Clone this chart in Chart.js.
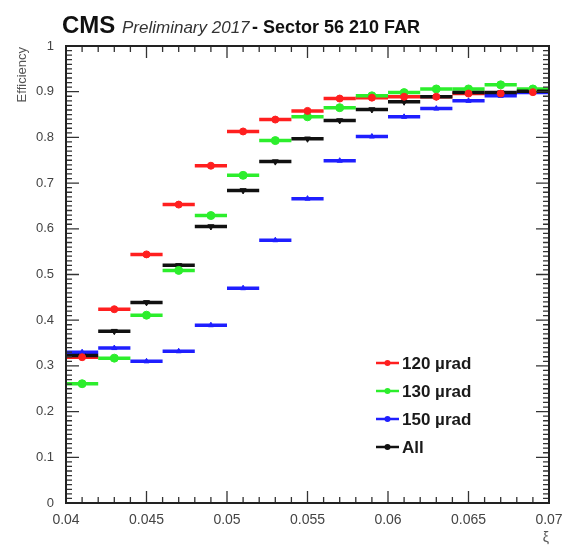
<!DOCTYPE html>
<html>
<head>
<meta charset="utf-8">
<script src="https://cdn.jsdelivr.net/npm/chart.js@4.4.1/dist/chart.umd.min.js"></script>
<style>
  html, body { margin: 0; padding: 0; background: #fff; }
  #wrap { width: 564px; height: 549px; }
</style>
</head>
<body>
<div id="wrap"><canvas id="effChart"></canvas></div>
<script>
// bin centres in xi, each bin is 0.002 wide
var xiBins = [0.041, 0.043, 0.045, 0.047, 0.049, 0.051, 0.053, 0.055,
              0.057, 0.059, 0.061, 0.063, 0.065, 0.067, 0.069];
var binHalfWidth = 0.001;

var eff120 = [0.319, 0.424, 0.544, 0.653, 0.738, 0.813, 0.839, 0.858,
              0.885, 0.887, 0.889, 0.889, 0.896, 0.896, 0.899];
var eff130 = [0.261, 0.317, 0.411, 0.509, 0.629, 0.717, 0.793, 0.845,
              0.865, 0.891, 0.898, 0.906, 0.906, 0.915, 0.906];
var eff150 = [0.330, 0.339, 0.310, 0.332, 0.389, 0.470, 0.575, 0.666,
              0.749, 0.802, 0.845, 0.863, 0.880, 0.891, 0.898];
var effAll = [0.323, 0.376, 0.439, 0.520, 0.605, 0.684, 0.747, 0.797,
              0.837, 0.861, 0.878, 0.889, 0.898, 0.898, 0.901];

var xTickValues = [0.04, 0.045, 0.05, 0.055, 0.06, 0.065, 0.07];
var xTickLabels = ["0.04", "0.045", "0.05", "0.055", "0.06", "0.065", "0.07"];
var yTickValues = [0, 0.1, 0.2, 0.3, 0.4, 0.5, 0.6, 0.7, 0.8, 0.9, 1];
var yTickLabels = ["0", "0.1", "0.2", "0.3", "0.4", "0.5", "0.6", "0.7", "0.8", "0.9", "1"];

function points(vals) {
  return xiBins.map(function (x, i) { return { x: x, y: vals[i] }; });
}

function series(label, vals, color, style, radius, rot) {
  return {
    label: label,
    data: points(vals),
    showLine: false,
    pointStyle: style,
    pointRadius: radius,
    pointRotation: rot || 0,
    pointBackgroundColor: color,
    pointBorderColor: color,
    pointBorderWidth: 1,
    binColor: color
  };
}

var rootFrame = {
  id: "rootFrame",
  beforeDatasetsDraw: function (chart) {
    var ctx = chart.ctx, xs = chart.scales.x, ys = chart.scales.y;
    ctx.save();
    ctx.lineWidth = 3.5;
    chart.data.datasets.forEach(function (ds) {
      ctx.strokeStyle = ds.binColor;
      ds.data.forEach(function (p) {
        var y = ys.getPixelForValue(p.y);
        ctx.beginPath();
        ctx.moveTo(xs.getPixelForValue(p.x - binHalfWidth), y);
        ctx.lineTo(xs.getPixelForValue(p.x + binHalfWidth), y);
        ctx.stroke();
      });
    });
    ctx.restore();
  },
  afterDraw: function (chart) {
    var ctx = chart.ctx, a = chart.chartArea;
    var xs = chart.scales.x, ys = chart.scales.y;
    ctx.save();

    // tick marks on all four sides, pointing inwards
    ctx.strokeStyle = "#333";
    ctx.lineWidth = 1.3;
    ctx.beginPath();
    for (var k = 0; k <= 30; k++) {
      var px = xs.getPixelForValue(0.04 + k * 0.001);
      var len = (k % 5 === 0) ? 12 : 6;
      ctx.moveTo(px, a.bottom); ctx.lineTo(px, a.bottom - len);
      ctx.moveTo(px, a.top); ctx.lineTo(px, a.top + len);
    }
    for (var j = 0; j <= 100; j++) {
      var py = ys.getPixelForValue(j * 0.01);
      var l = (j % 10 === 0) ? 13 : 6;
      ctx.moveTo(a.left, py); ctx.lineTo(a.left + l, py);
      ctx.moveTo(a.right, py); ctx.lineTo(a.right - l, py);
    }
    ctx.stroke();

    ctx.strokeStyle = "#222";
    ctx.lineWidth = 2;
    ctx.strokeRect(a.left, a.top, a.right - a.left, a.bottom - a.top);

    // header
    ctx.fillStyle = "#111";
    ctx.textBaseline = "alphabetic";
    ctx.textAlign = "left";
    ctx.font = "bold 24px 'Liberation Sans', Arial, sans-serif";
    ctx.fillText("CMS", 62, 33);
    ctx.fillStyle = "#333";
    ctx.font = "italic 17px 'Liberation Sans', Arial, sans-serif";
    ctx.fillText("Preliminary 2017", 122, 33);
    ctx.fillStyle = "#111";
    ctx.font = "bold 18px 'Liberation Sans', Arial, sans-serif";
    ctx.fillText("- Sector 56 210 FAR", 252, 33);

    // axis titles
    ctx.fillStyle = "#555";
    ctx.font = "13px 'Liberation Sans', Arial, sans-serif";
    ctx.save();
    ctx.translate(26, a.top + 1);
    ctx.rotate(-Math.PI / 2);
    ctx.textAlign = "right";
    ctx.fillText("Efficiency", 0, 0);
    ctx.restore();
    ctx.textAlign = "right";
    ctx.font = "14px 'Liberation Sans', Arial, sans-serif";
    ctx.fillText("\u03be", a.right, 542);

    // legend
    var ly = 363;
    chart.data.datasets.forEach(function (ds) {
      ctx.strokeStyle = ds.binColor;
      ctx.lineWidth = 2.5;
      ctx.beginPath();
      ctx.moveTo(376, ly); ctx.lineTo(399, ly);
      ctx.stroke();
      ctx.fillStyle = ds.binColor;
      ctx.beginPath();
      ctx.arc(387.5, ly, 3, 0, Math.PI * 2);
      ctx.fill();
      ctx.fillStyle = "#1a1a1a";
      ctx.textAlign = "left";
      ctx.textBaseline = "middle";
      ctx.font = "bold 17px 'Liberation Sans', Arial, sans-serif";
      ctx.fillText(ds.label, 402, ly + 1);
      ly += 28;
    });
    ctx.restore();
  }
};

new Chart(document.getElementById("effChart"), {
  type: "scatter",
  data: {
    datasets: [
      series("120 \u00b5rad", eff120, "#ff1f1f", "circle", 3.5),
      series("130 \u00b5rad", eff130, "#2cee2c", "circle", 4),
      series("150 \u00b5rad", eff150, "#1f1fff", "triangle", 3),
      series("All", effAll, "#111111", "triangle", 3.5, 180)
    ]
  },
  options: {
    responsive: true,
    maintainAspectRatio: false,
    animation: false,
    devicePixelRatio: 1,
    layout: { padding: { top: 46, right: 15, left: 0, bottom: 0 } },
    scales: {
      x: {
        type: "linear",
        min: 0.04,
        max: 0.07,
        afterBuildTicks: function (s) {
          s.ticks = xTickValues.map(function (v) { return { value: v }; });
        },
        afterFit: function (s) { s.height = 46; },
        ticks: {
          autoSkip: false,
          maxRotation: 0,
          padding: 1,
          color: "#444",
          font: { size: 14, family: "'Liberation Sans', Arial, sans-serif" },
          callback: function (v, i) { return xTickLabels[i]; }
        },
        grid: { display: false },
        border: { display: false }
      },
      y: {
        min: 0,
        max: 1,
        afterBuildTicks: function (s) {
          s.ticks = yTickValues.map(function (v) { return { value: v }; });
        },
        afterFit: function (s) { s.width = 66; },
        ticks: {
          autoSkip: false,
          padding: 4,
          color: "#444",
          font: { size: 13, family: "'Liberation Sans', Arial, sans-serif" },
          callback: function (v, i) { return yTickLabels[i]; }
        },
        grid: { display: false },
        border: { display: false }
      }
    },
    plugins: {
      legend: { display: false },
      tooltip: { enabled: false }
    }
  },
  plugins: [rootFrame]
});
</script>
</body>
</html>
